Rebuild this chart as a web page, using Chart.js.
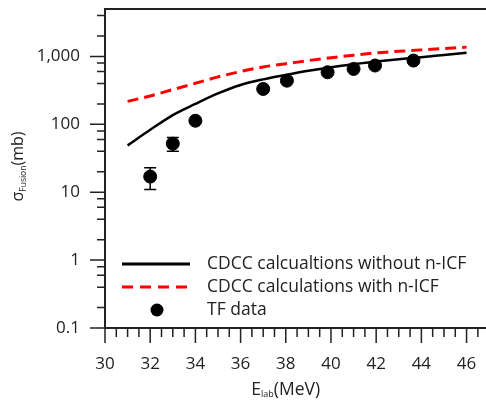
<!DOCTYPE html>
<html>
<head>
<meta charset="utf-8">
<script src="https://cdn.jsdelivr.net/npm/chart.js@4.4.1/dist/chart.umd.min.js"></script>
<style>
  html, body { margin: 0; padding: 0; background: #fff; }
  #wrap { width: 486px; height: 401px; position: relative; }
</style>
</head>
<body>
<div id="wrap"><canvas id="chart"></canvas></div>
<script>
// calculation curves (E_lab in MeV, sigma in mb)
const calcEnergy = [31, 32, 33, 34, 35, 36, 37, 38, 39, 40, 41, 42, 43, 44, 45, 46];
const sigmaNoIcf = [49, 83, 137, 200, 285, 380, 460, 535, 615, 695, 770, 840, 910, 975, 1050, 1130];
const sigmaWithIcf = [218, 262, 325, 402, 500, 600, 700, 780, 870, 955, 1045, 1130, 1190, 1250, 1310, 1372];

// TF data points with errors
const tfEnergy = [32.0, 33.0, 34.0, 37.0, 38.05, 39.85, 41.0, 41.95, 43.65];
const tfSigma = [17, 52, 113, 332, 440, 585, 655, 735, 870];
const tfError = [6, 12, 0, 0, 0, 0, 0, 0, 0];

// axis ticks
const xTickLabels = [30, 32, 34, 36, 38, 40, 42, 44, 46];
const yTickLabels = [0.1, 1, 10, 100, 1000];

const legendLabels = [
  'CDCC calcualtions without n-ICF',
  'CDCC calculations with n-ICF',
  'TF data'
];

const FONT = '"Open Sans", "Noto Sans", sans-serif';
const TEXT = '#222';

const toXY = (xs, ys) => xs.map((x, i) => ({ x: x, y: ys[i] }));

// minor ticks: 2,4,6,8 per decade on y, every 0.5 on x
const yMinor = [];
[0.1, 1, 10, 100, 1000].forEach(d => [2, 4, 6, 8].forEach(m => yMinor.push(d * m)));
const xMinor = [];
for (let v = 30.5; v < 47; v += 0.5) {
  if (!xTickLabels.includes(v)) xMinor.push(v);
}

// draws a main text + subscript + rest, centred on cx
function subText(ctx, parts, cx, y, bigPx, smallPx, drop) {
  const big = bigPx + 'px ' + FONT, small = smallPx + 'px ' + FONT;
  ctx.font = big; const w0 = ctx.measureText(parts[0]).width;
  const w2 = ctx.measureText(parts[2]).width;
  ctx.font = small; const w1 = ctx.measureText(parts[1]).width;
  const x0 = cx - (w0 + w1 + w2) / 2;
  ctx.font = big; ctx.fillText(parts[0], x0, y);
  ctx.font = small; ctx.fillText(parts[1], x0 + w0, y + drop);
  ctx.font = big; ctx.fillText(parts[2], x0 + w0 + w1, y);
}

const framePlugin = {
  id: 'frame',
  afterDraw(chart) {
    const ctx = chart.ctx;
    const a = chart.chartArea;
    const xs = chart.scales.x;
    const ys = chart.scales.y;
    ctx.save();
    ctx.strokeStyle = '#222';
    ctx.lineWidth = 2;
    // top line
    ctx.beginPath();
    ctx.moveTo(a.left, a.top);
    ctx.lineTo(a.right, a.top);
    ctx.stroke();

    // y ticks
    ctx.lineWidth = 1.5;
    ctx.beginPath();
    yTickLabels.forEach(v => {
      const p = ys.getPixelForValue(v);
      ctx.moveTo(a.left - 15, p); ctx.lineTo(a.left, p);
    });
    yMinor.forEach(v => {
      if (v > ys.max) return;
      const p = ys.getPixelForValue(v);
      ctx.moveTo(a.left - 8, p); ctx.lineTo(a.left, p);
    });
    // x ticks
    xTickLabels.forEach(v => {
      const p = xs.getPixelForValue(v);
      ctx.moveTo(p, a.bottom); ctx.lineTo(p, a.bottom + 15);
    });
    xMinor.forEach(v => {
      if (v > xs.max) return;
      const p = xs.getPixelForValue(v);
      ctx.moveTo(p, a.bottom); ctx.lineTo(p, a.bottom + 9);
    });
    ctx.stroke();

    // axis titles
    ctx.fillStyle = TEXT;
    ctx.textBaseline = 'alphabetic';
    ctx.textAlign = 'left';
    subText(ctx, ['E', 'lab', '(MeV)'], xs.getPixelForValue(38), 395, 17.5, 9, 2);

    ctx.save();
    ctx.translate(23, (a.top + a.bottom) / 2 - 2);
    ctx.rotate(-Math.PI / 2);
    subText(ctx, ['σ', 'Fusion', '(mb)'], 0, 0, 16, 8.5, 2.5);
    ctx.restore();

    // legend
    const lx1 = 122, lx2 = 190, tx = 207;
    const rows = [264, 287, 310];
    ctx.lineWidth = 3;
    ctx.strokeStyle = '#000';
    ctx.beginPath(); ctx.moveTo(lx1, rows[0]); ctx.lineTo(lx2, rows[0]); ctx.stroke();
    ctx.strokeStyle = '#ff0000';
    ctx.setLineDash([11, 7]);
    ctx.beginPath(); ctx.moveTo(lx1, rows[1]); ctx.lineTo(lx2, rows[1]); ctx.stroke();
    ctx.setLineDash([]);
    ctx.fillStyle = '#000';
    ctx.beginPath(); ctx.arc((lx1 + lx2) / 2 + 1, rows[2], 6.5, 0, Math.PI * 2); ctx.fill();
    ctx.fillStyle = TEXT;
    ctx.font = '17.5px ' + FONT;
    ctx.textBaseline = 'middle';
    legendLabels.forEach((t, i) => ctx.fillText(t, tx, rows[i]));
    ctx.restore();
  }
};

// error bars for the TF data
const errorBarPlugin = {
  id: 'errorBars',
  afterDatasetsDraw(chart) {
    const ctx = chart.ctx;
    const xs = chart.scales.x, ys = chart.scales.y;
    ctx.save();
    ctx.strokeStyle = '#000';
    ctx.lineWidth = 1.5;
    tfEnergy.forEach((e, i) => {
      if (!tfError[i]) return;
      const px = xs.getPixelForValue(e);
      const hi = ys.getPixelForValue(tfSigma[i] + tfError[i]);
      const lo = ys.getPixelForValue(tfSigma[i] - tfError[i]);
      ctx.beginPath();
      ctx.moveTo(px, hi); ctx.lineTo(px, lo);
      ctx.moveTo(px - 6, hi); ctx.lineTo(px + 6, hi);
      ctx.moveTo(px - 6, lo); ctx.lineTo(px + 6, lo);
      ctx.stroke();
    });
    ctx.restore();
  }
};

new Chart(document.getElementById('chart'), {
  type: 'scatter',
  data: {
    datasets: [
      {
        label: legendLabels[0],
        data: toXY(calcEnergy, sigmaNoIcf),
        showLine: true,
        borderColor: '#000',
        borderWidth: 2.5,
        pointRadius: 0,
        cubicInterpolationMode: 'monotone',
        order: 3
      },
      {
        label: legendLabels[1],
        data: toXY(calcEnergy, sigmaWithIcf),
        showLine: true,
        borderColor: '#ff0000',
        borderWidth: 3,
        borderDash: [11, 6],
        pointRadius: 0,
        cubicInterpolationMode: 'monotone',
        order: 2
      },
      {
        label: legendLabels[2],
        data: toXY(tfEnergy, tfSigma),
        showLine: false,
        backgroundColor: '#000',
        borderColor: '#000',
        pointRadius: 6.5,
        order: 1
      }
    ]
  },
  options: {
    responsive: true,
    maintainAspectRatio: false,
    animation: false,
    layout: { autoPadding: false, padding: { top: 9, right: 0, left: 0, bottom: 0 } },
    plugins: {
      legend: { display: false },
      tooltip: { enabled: false }
    },
    scales: {
      x: {
        type: 'linear',
        min: 30,
        max: 46.86,
        afterBuildTicks: s => { s.ticks = xTickLabels.map(v => ({ value: v })); },
        afterFit: s => { s.height = 73; s.paddingLeft = 0; s.paddingRight = 0; },
        grid: { display: true, drawOnChartArea: false, drawTicks: false },
        border: { display: true, color: '#222', width: 2 },
        ticks: {
          autoSkip: false,
          maxRotation: 0,
          padding: 26,
          color: TEXT,
          font: { family: FONT, size: 17 }
        }
      },
      y: {
        type: 'logarithmic',
        min: 0.1,
        max: 5000,
        afterBuildTicks: s => { s.ticks = yTickLabels.map(v => ({ value: v })); },
        afterFit: s => { s.width = 105; s.paddingTop = 0; s.paddingBottom = 0; },
        grid: { display: true, drawOnChartArea: false, drawTicks: false },
        border: { display: true, color: '#222', width: 2 },
        ticks: {
          autoSkip: false,
          padding: 25,
          color: TEXT,
          font: { family: FONT, size: 17 },
          callback: v => v >= 1000 ? v.toLocaleString('en-US') : String(v)
        }
      }
    }
  },
  plugins: [framePlugin, errorBarPlugin]
});
</script>
</body>
</html>
